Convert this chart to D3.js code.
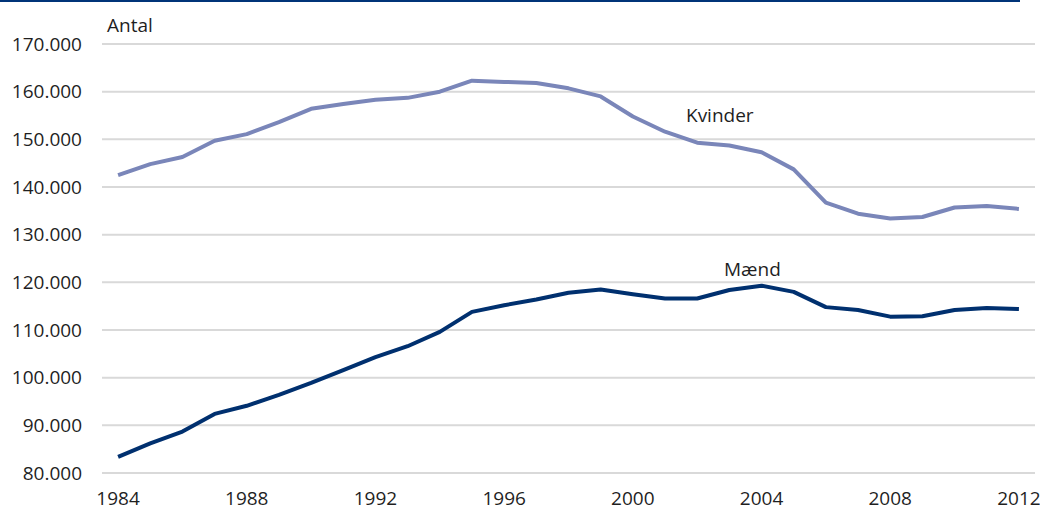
<!DOCTYPE html>
<html>
<head>
<meta charset="utf-8">
<script src="https://cdn.jsdelivr.net/npm/d3@7"></script>
<style>
  body { margin: 0; background: #fff; }
  svg text { font-family: "Open Sans", sans-serif; fill: #1f1f1f; }
</style>
</head>
<body>
<script>
const years = d3.range(1984, 2013);
const kvinder = [142500, 144800, 146300, 149700, 151100, 153600, 156400, 157400, 158300, 158700,
  160000, 162300, 162050, 161800, 160700, 159000, 154800, 151600, 149300, 148700,
  147300, 143700, 136700, 134400, 133400, 133700, 135700, 136000, 135400];
const maend = [83400, 86200, 88700, 92400, 94100, 96400, 98900, 101600, 104300, 106600,
  109600, 113800, 115200, 116400, 117800, 118500, 117500, 116600, 116600, 118400,
  119300, 118000, 114800, 114200, 112800, 112900, 114200, 114600, 114400];
const y_ticks = [80000, 90000, 100000, 110000, 120000, 130000, 140000, 150000, 160000, 170000];
const x_ticks = [1984, 1988, 1992, 1996, 2000, 2004, 2008, 2012];

const _width = 1040;
const _height = 510;

const svg = d3.select('body')
    .append('svg')
    .attr('width', _width)
    .attr('height', _height);

const x = d3.scalePoint()
    .domain(years)
    .range([102, 1035])
    .padding(0.5);

const y = d3.scaleLinear()
    .domain([80000, 170000])
    .range([473, 44]);

const fmt = d3.format(',');
const dk = v => fmt(v).replace(/,/g, '.');

// top rule
svg.append('rect')
    .attr('x', 0).attr('y', 0)
    .attr('width', 1020).attr('height', 2)
    .attr('fill', '#003478');

// grid
svg.append('g')
    .selectAll('line')
    .data(y_ticks)
    .join('line')
    .attr('x1', 102).attr('x2', 1035)
    .attr('y1', d => y(d)).attr('y2', d => y(d))
    .attr('stroke', '#d9d9d9')
    .attr('stroke-width', 2);

// y labels
svg.append('g')
    .selectAll('text')
    .data(y_ticks)
    .join('text')
    .attr('x', 82)
    .attr('y', d => y(d))
    .attr('dy', '0.35em')
    .attr('text-anchor', 'end')
    .style('font-size', '19px')
    .text(d => dk(d));

// x labels
svg.append('g')
    .selectAll('text')
    .data(x_ticks)
    .join('text')
    .attr('x', d => x(d))
    .attr('y', 505)
    .attr('text-anchor', 'middle')
    .style('font-size', '19px')
    .text(d => d);

svg.append('text')
    .attr('x', 107).attr('y', 32)
    .style('font-size', '19px')
    .text('Antal');

const line = d3.line()
    .x((d, i) => x(years[i]))
    .y(d => y(d));

svg.append('path')
    .datum(kvinder)
    .attr('d', line)
    .attr('fill', 'none')
    .attr('stroke', '#7a86b9')
    .attr('stroke-width', 4)
    .attr('stroke-linejoin', 'round');

svg.append('path')
    .datum(maend)
    .attr('d', line)
    .attr('fill', 'none')
    .attr('stroke', '#00306f')
    .attr('stroke-width', 4)
    .attr('stroke-linejoin', 'round');

svg.append('text')
    .attr('x', 686).attr('y', 122)
    .style('font-size', '19px')
    .text('Kvinder');

svg.append('text')
    .attr('x', 724).attr('y', 276)
    .style('font-size', '19px')
    .text('Mænd');
</script>
</body>
</html>
